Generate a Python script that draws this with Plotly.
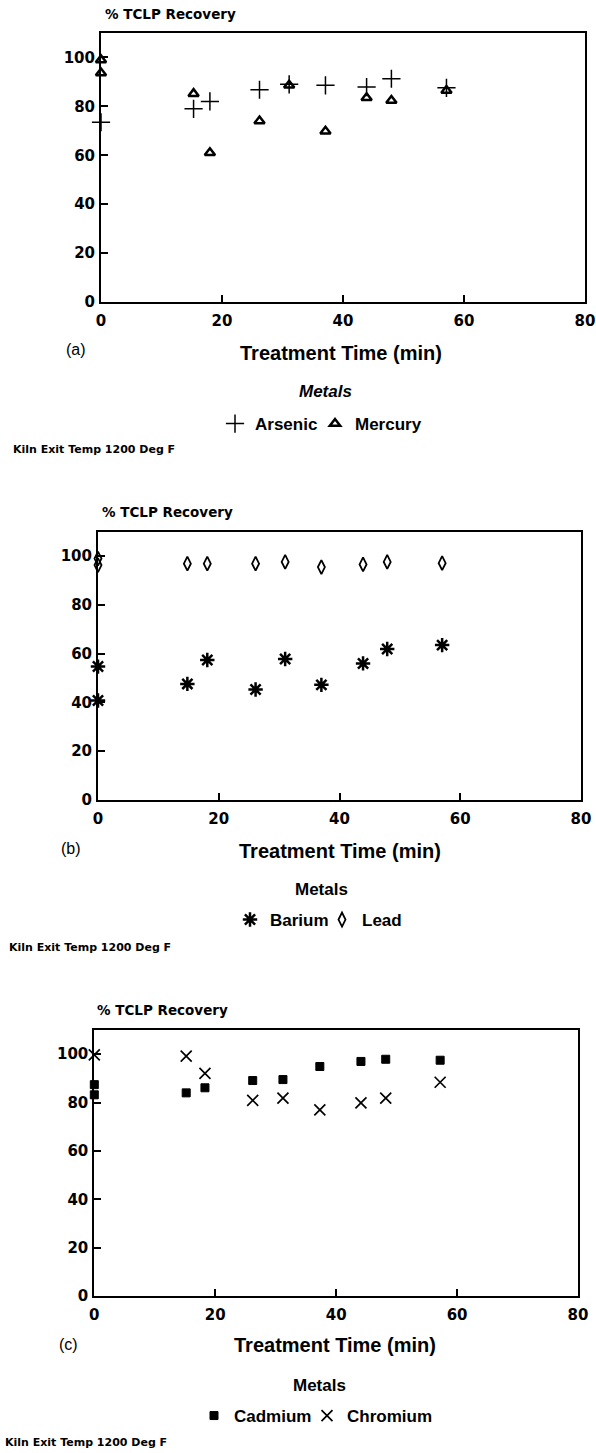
import plotly.graph_objects as go

W, H = 596, 1453

# ---------------- data ----------------
# Panel (a)
time_arsenic = [0, 15.3, 18.0, 26.2, 31.1, 37.1, 43.9, 48.0, 57.1]
arsenic = [73.5, 79.0, 82.0, 86.8, 89.0, 88.6, 87.9, 91.3, 87.6]
time_mercury = [0, 0, 15.3, 18.0, 26.2, 31.1, 37.1, 43.9, 48.0, 57.1]
mercury = [99.0, 93.6, 85.2, 61.0, 74.0, 88.6, 69.8, 83.5, 82.4, 86.5]

# Panel (b)
time_barium = [0, 0, 14.8, 18.1, 26.1, 31.0, 37.0, 43.9, 47.9, 57.0]
barium = [54.7, 40.8, 47.6, 57.4, 45.3, 57.8, 47.2, 56.0, 61.9, 63.5]
time_lead = [0, 0, 14.8, 18.1, 26.1, 31.0, 37.0, 43.9, 47.9, 57.0]
lead = [99.0, 96.3, 96.9, 96.9, 96.9, 97.6, 95.5, 96.6, 97.6, 97.1]

# Panel (c)
time_cadmium = [0, 0, 15.2, 18.3, 26.2, 31.2, 37.3, 44.1, 48.2, 57.2]
cadmium = [87.4, 83.2, 84.0, 86.1, 89.1, 89.5, 94.9, 97.0, 97.9, 97.5]
time_chromium = [0, 15.2, 18.3, 26.2, 31.2, 37.3, 44.1, 48.2, 57.2]
chromium = [99.7, 99.2, 92.1, 80.9, 81.8, 77.0, 79.9, 81.8, 88.4]

x_ticks = [0, 20, 40, 60, 80]
y_ticks = [0, 20, 40, 60, 80, 100]
x_range = [0, 80]
y_range = [0, 110]

x_title = "Treatment Time (min)"
y_title = "% TCLP Recovery"
legend_title = "Metals"
footnote = "Kiln Exit Temp 1200 Deg F"
panel_labels = ["(a)", "(b)", "(c)"]

# ---------------- helpers ----------------
def px(x):
    return x / W

def py(y):
    return 1 - y / H

BOLD = "Liberation Sans"
TICKF = dict(family="DejaVu Sans", size=15, color="black", weight="bold")

fig = go.Figure()

def add(xv, yv, name, symbol, size, lw, xa, ya, legend, lwidth=None):
    fig.add_trace(go.Scatter(
        x=xv, y=yv, mode="markers", name=name,
        xaxis=xa, yaxis=ya, legend=legend, cliponaxis=False,
        legendwidth=lwidth,
        marker=dict(symbol=symbol, size=size, color="black",
                    line=dict(color="black", width=lw)),
    ))

add(time_arsenic, arsenic, "Arsenic", "cross-thin-open", 13, 1.5, "x", "y", "legend", 55)
add(time_mercury, mercury, "Mercury", "triangle-up-open", 9, 2.5, "x", "y", "legend")
add(time_barium, barium, "Barium", "asterisk-open", 12, 2.5, "x2", "y2", "legend2", 47)
add(time_lead, lead, "Lead", "diamond-tall-open", 10, 1.8, "x2", "y2", "legend2")
add(time_cadmium, cadmium, "Cadmium", "square", 8, 1, "x3", "y3", "legend3", 68)
add(time_chromium, chromium, "Chromium", "x-thin-open", 11, 1.7, "x3", "y3", "legend3")

panels = [
    # (x left, x right, y top, y bottom) in pixels
    (101, 585, 33, 302),
    (98, 581, 531.7, 800),
    (94.3, 578, 1030, 1296),
]

layout = dict(
    width=W, height=H,
    margin=dict(l=0, r=0, t=0, b=0, autoexpand=False),
    paper_bgcolor="white", plot_bgcolor="white",
    font=dict(family=BOLD, color="black"),
)

for i, (xl, xr, yt, yb) in enumerate(panels):
    sfx = "" if i == 0 else str(i + 1)
    layout["xaxis" + sfx] = dict(
        domain=[px(xl), px(xr)], range=x_range, anchor="y" + sfx,
        tickvals=x_ticks, ticks="inside", ticklen=7, tickwidth=1.5,
        tickcolor="black", showline=True, linecolor="black", linewidth=2,
        mirror=True, showgrid=False, zeroline=False, tickfont=TICKF,
        ticklabelstandoff=4,
    )
    layout["yaxis" + sfx] = dict(
        domain=[py(yb), py(yt)], range=y_range, anchor="x" + sfx,
        tickvals=y_ticks, ticks="inside", ticklen=7, tickwidth=1.5,
        tickcolor="black", showline=True, linecolor="black", linewidth=2,
        mirror=True, showgrid=False, zeroline=False, tickfont=TICKF,
        ticklabelstandoff=1,
    )

legend_common = dict(orientation="h", xanchor="left", yanchor="middle",
                     bgcolor="rgba(0,0,0,0)",
                     font=dict(family=BOLD, size=17, color="black", weight="bold"))
layout["legend"] = dict(x=px(215), y=py(424), **legend_common)
layout["legend2"] = dict(x=px(230), y=py(920), **legend_common)
layout["legend3"] = dict(x=px(194), y=py(1416), **legend_common)

ann = []

def text(t, x, y, size, xanchor="center", weight="bold", style="normal", family=BOLD):
    ann.append(dict(text=t, x=px(x), y=py(y), xref="paper", yref="paper",
                    xanchor=xanchor, yanchor="middle", showarrow=False,
                    font=dict(family=family, size=size, color="black",
                              weight=weight, style=style)))

# panel (a)
text(y_title, 103, 14, 13.5, xanchor="left", family="DejaVu Sans")
text(panel_labels[0], 76, 350, 16, weight="normal")
text(x_title, 341, 353, 20)
text(legend_title, 325, 392, 17, style="italic")
text(footnote, 11, 449, 11, xanchor="left", family="DejaVu Sans")
# panel (b)
text(y_title, 100, 512, 13.5, xanchor="left", family="DejaVu Sans")
text(panel_labels[1], 71, 848, 16, weight="normal")
text(x_title, 340, 851, 20)
text(legend_title, 321, 889, 17)
text(footnote, 7, 947, 11, xanchor="left", family="DejaVu Sans")
# panel (c)
text(y_title, 95, 1010, 13.5, xanchor="left", family="DejaVu Sans")
text(panel_labels[2], 68, 1344, 16, weight="normal")
text(x_title, 335, 1345, 20)
text(legend_title, 319, 1385, 17)
text(footnote, 3, 1442, 11, xanchor="left", family="DejaVu Sans")

layout["annotations"] = ann
fig.update_layout(**layout)

fig.write_html("out.html")
